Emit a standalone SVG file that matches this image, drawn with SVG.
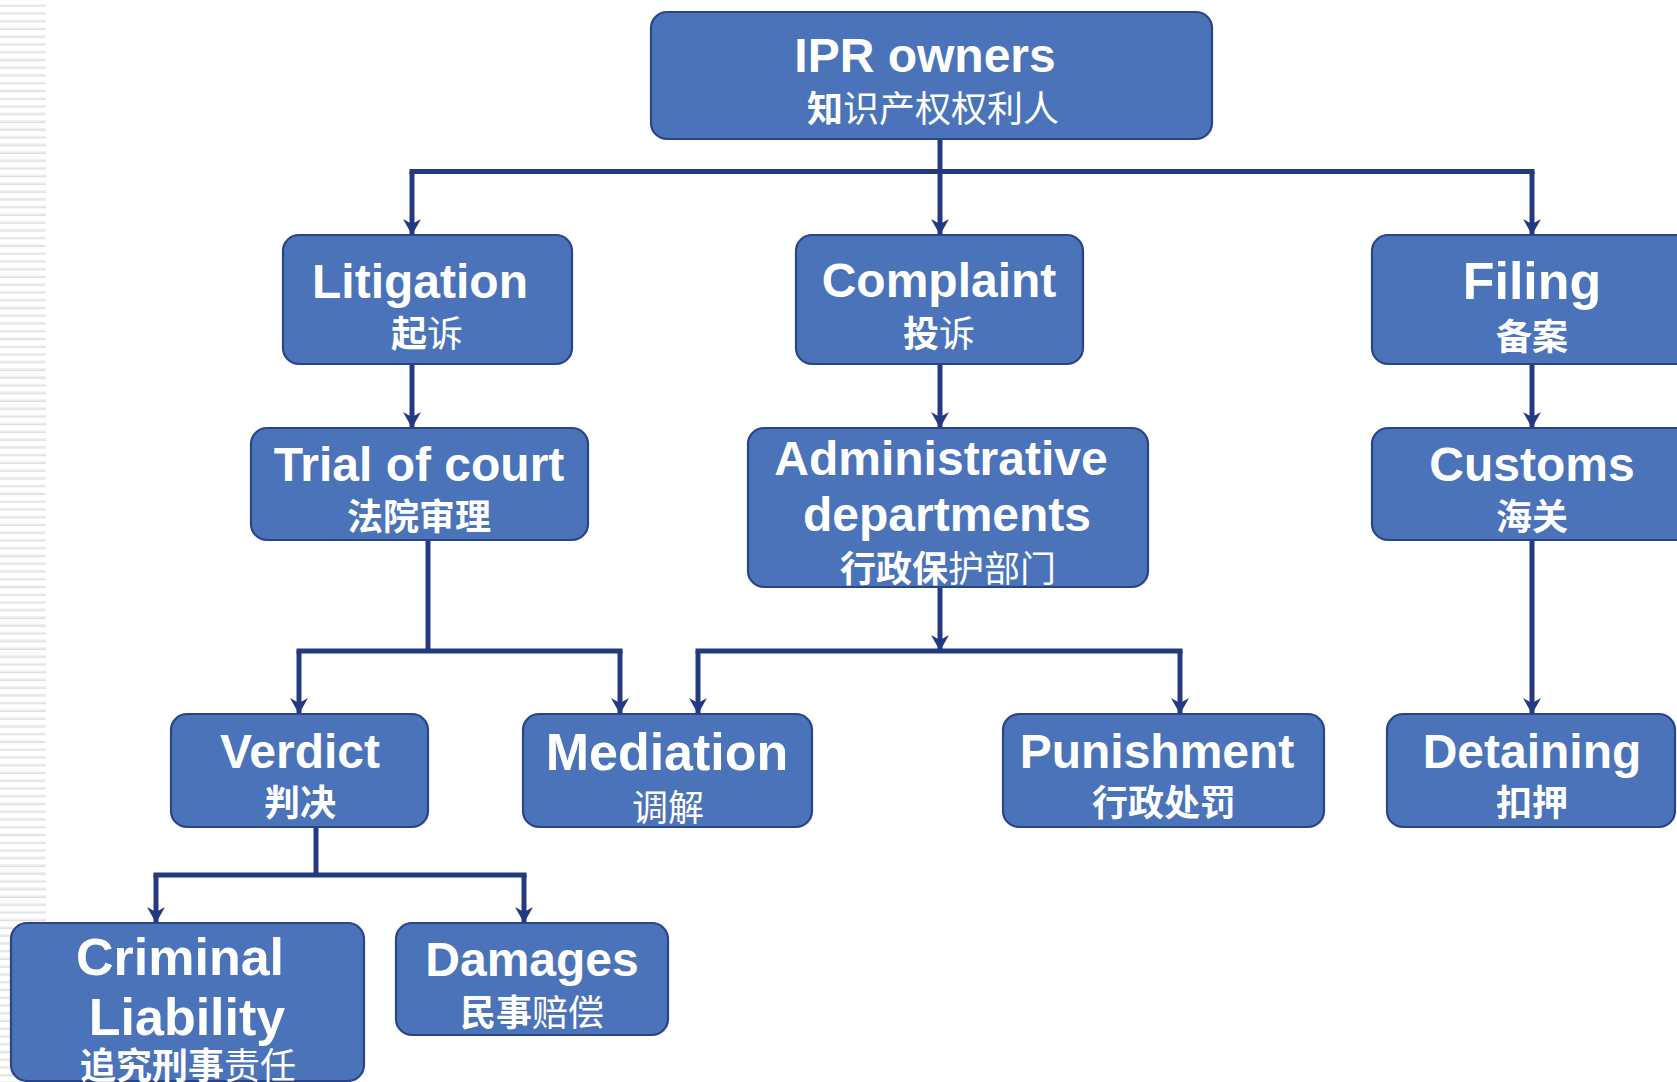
<svg xmlns="http://www.w3.org/2000/svg" width="1677" height="1082" viewBox="0 0 1677 1082">
<defs>
<pattern id="stripes" x="0" y="0" width="46" height="7.75" patternUnits="userSpaceOnUse">
<rect x="0" y="4.2" width="46" height="1.3" fill="#ececec"/>
<rect x="0" y="5.5" width="46" height="1.3" fill="#dedede"/>
</pattern>
<marker id="arr" viewBox="0 0 16 18" refX="16" refY="9" markerWidth="16" markerHeight="18" markerUnits="userSpaceOnUse" orient="auto">
<path d="M0,0 L16,9 L0,18 L5,9 Z" fill="#243a80"/>
</marker>
<style>
.box{fill:#4a73ba;stroke:#2a4488;stroke-width:2.2}
.en{font-family:"Liberation Sans",Arial,sans-serif;font-weight:bold;font-size:48px;fill:#fff;text-anchor:middle}
.big{font-size:52px}
.cn{font-family:"Noto Sans CJK SC","Noto Sans",sans-serif;font-weight:bold;font-size:36px;fill:#fff;text-anchor:middle}
.rg{font-weight:normal}
.con{fill:none;stroke:#243a80;stroke-width:5}
.bus{fill:none;stroke:#243a80;stroke-width:5;stroke-linecap:square}
</style>
</defs>
<rect width="1677" height="1082" fill="#ffffff"/>
<rect x="0" y="0" width="46" height="1082" fill="url(#stripes)"/>

<g id="connectors">
<path class="bus" d="M412,171.5 H1532"/>
<path class="con" d="M940,139 V235" marker-end="url(#arr)"/>
<path class="con" d="M412,171.5 V235" marker-end="url(#arr)"/>
<path class="con" d="M1532,171.5 V235" marker-end="url(#arr)"/>
<path class="con" d="M412,364 V428" marker-end="url(#arr)"/>
<path class="con" d="M940,364 V428" marker-end="url(#arr)"/>
<path class="con" d="M1532,364 V428" marker-end="url(#arr)"/>
<path class="con" d="M428,540 V651"/>
<path class="bus" d="M299,651 H620"/>
<path class="con" d="M299,651 V714" marker-end="url(#arr)"/>
<path class="con" d="M620,651 V714" marker-end="url(#arr)"/>
<path class="con" d="M940,587 V651" marker-end="url(#arr)"/>
<path class="bus" d="M698,651 H1180"/>
<path class="con" d="M698,651 V714" marker-end="url(#arr)"/>
<path class="con" d="M1180,651 V714" marker-end="url(#arr)"/>
<path class="con" d="M1532,540 V714" marker-end="url(#arr)"/>
<path class="con" d="M316,827 V875"/>
<path class="bus" d="M156,875 H524"/>
<path class="con" d="M156,875 V923" marker-end="url(#arr)"/>
<path class="con" d="M524,875 V923" marker-end="url(#arr)"/>
</g>

<g id="ipr-owners">
<rect class="box" x="651" y="12" width="561" height="127" rx="16"/>
<text class="en" x="925" y="72">IPR owners</text>
<text class="cn" x="933" y="122">知<tspan class="rg">识产权权利人</tspan></text>
</g>
<g id="litigation">
<rect class="box" x="283" y="235" width="289" height="129" rx="16"/>
<text class="en" x="420" y="298">Litigation</text>
<text class="cn" x="427" y="347">起<tspan class="rg">诉</tspan></text>
</g>
<g id="complaint">
<rect class="box" x="796" y="235" width="287" height="129" rx="16"/>
<text class="en" x="939" y="297">Complaint</text>
<text class="cn" x="939" y="347">投<tspan class="rg">诉</tspan></text>
</g>
<g id="filing">
<rect class="box" x="1372" y="235" width="330" height="129" rx="16"/>
<text class="en big" x="1532" y="299">Filing</text>
<text class="cn" x="1532" y="350">备案</text>
</g>
<g id="trial-of-court">
<rect class="box" x="251" y="428" width="337" height="112" rx="16"/>
<text class="en" x="419" y="481">Trial of court</text>
<text class="cn" x="419" y="530">法院审理</text>
</g>
<g id="administrative-departments">
<rect class="box" x="748" y="428" width="400" height="159" rx="16"/>
<text class="en" x="941" y="475">Administrative</text>
<text class="en" x="947" y="531">departments</text>
<text class="cn" x="948" y="582">行政保<tspan class="rg">护部门</tspan></text>
</g>
<g id="customs">
<rect class="box" x="1372" y="428" width="330" height="112" rx="16"/>
<text class="en" x="1532" y="481">Customs</text>
<text class="cn" x="1532" y="530">海关</text>
</g>
<g id="verdict">
<rect class="box" x="171" y="714" width="257" height="113" rx="16"/>
<text class="en" x="300" y="768">Verdict</text>
<text class="cn" x="300" y="816">判决</text>
</g>
<g id="mediation">
<rect class="box" x="523" y="714" width="289" height="113" rx="16"/>
<text class="en big" x="667" y="770">Mediation</text>
<text class="cn" x="668" y="821"><tspan class="rg">调解</tspan></text>
</g>
<g id="punishment">
<rect class="box" x="1003" y="714" width="321" height="113" rx="16"/>
<text class="en" x="1157" y="768">Punishment</text>
<text class="cn" x="1164" y="816">行政处罚</text>
</g>
<g id="detaining">
<rect class="box" x="1387" y="714" width="288" height="113" rx="16"/>
<text class="en" x="1532" y="768">Detaining</text>
<text class="cn" x="1532" y="816">扣押</text>
</g>
<g id="criminal-liability">
<rect class="box" x="11" y="923" width="353" height="158" rx="16"/>
<text class="en big" x="180" y="975">Criminal</text>
<text class="en big" x="187" y="1035">Liability</text>
<text class="cn" x="188" y="1079">追究刑事<tspan class="rg">责任</tspan></text>
</g>
<g id="damages">
<rect class="box" x="396" y="923" width="272" height="112" rx="16"/>
<text class="en" x="532" y="976">Damages</text>
<text class="cn" x="532" y="1026">民事<tspan class="rg">赔偿</tspan></text>
</g>
</svg>
